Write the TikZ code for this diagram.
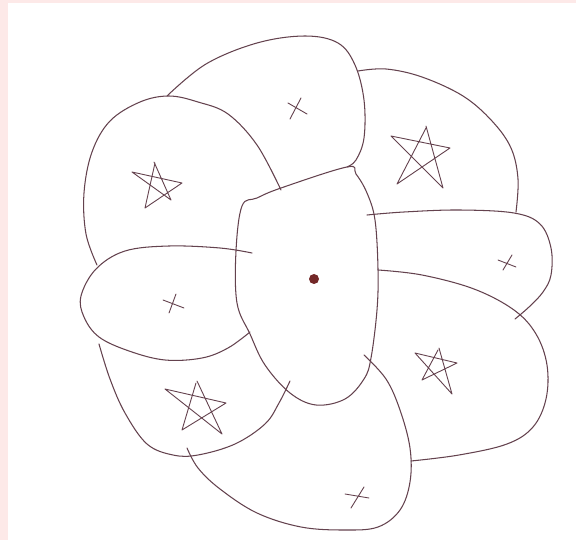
\documentclass[tikz,border=0pt]{standalone}
\usepackage{tikz}
\usetikzlibrary{calc}
\definecolor{ink}{RGB}{100,66,78}
\definecolor{dotred}{RGB}{115,40,40}
\definecolor{paperpink}{RGB}{253,233,232}
\begin{document}
\begin{tikzpicture}[x=1pt,y=-1pt,line cap=round,line join=round]
        \tikzset{pen/.style={draw=ink,line width=1.05pt},
                 penmark/.style={draw=ink,line width=0.9pt}}
        \useasboundingbox (0,0) rectangle (576,540);
        % Draw the paper
        \fill[paperpink] (0,0) rectangle (576,540);
        \fill[white] (8,3) rectangle (576,540);
        % Draw the central piece
        \draw[pen] plot[smooth cycle,tension=0.6] coordinates {(347,167) (281,188) (257,198) (242,206) (236,251) (237,303) (250,334) (265,365) (290,393) (316,405) (345,399) (364,379) (371,358) (377,310) (378,269) (375,220) (367,193) (356,174)};
        \fill[dotred] (314,279) circle (5);
        % top piece
        \draw[pen] plot[smooth,tension=0.6] coordinates {(167,96) (206,64) (257,43) (305,36) (338,43) (355,65) (364,100) (364,138) (356,160) (347,167)};
        % upper left piece
        \draw[pen] plot[smooth,tension=0.6] coordinates {(281,190) (257,145) (228,114) (198,102) (169,96) (140,102) (110,121) (92,152) (84,193) (86,234) (97,265)};
        % upper right piece
        \draw[pen] plot[smooth,tension=0.6] coordinates {(358,71) (386,69) (422,77) (463,96) (492,121) (511,148) (518,179) (516,212)};
        % right piece
        \draw[pen] plot[smooth,tension=0.6] coordinates {(367,215) (404,212) (459,210) (514,213) (540,224) (551,248) (551,275) (543,292) (529,307) (515,319)};
        % lower right piece
        \draw[pen] plot[smooth,tension=0.6] coordinates {(378,270) (422,275) (474,289) (514,310) (536,334) (547,365) (546,399) (533,427) (507,444) (459,455) (411,461)};
        % bottom piece
        \draw[pen] plot[smooth,tension=0.6] coordinates {(364,355) (386,379) (400,410) (410,448) (410,482) (400,510) (378,527) (345,530) (301,527) (257,513) (220,489) (198,468) (187,448)};
        % lower left piece
        \draw[pen] plot[smooth,tension=0.6] coordinates {(290,381) (279,403) (265,424) (235,444) (198,455) (173,455) (147,444) (125,413) (110,379) (99,344)};
        % left piece
        \draw[pen] plot[smooth,tension=0.6] coordinates {(252,253) (220,248) (169,246) (125,251) (96,269) (81,296) (84,317) (99,337) (129,351) (165,360) (202,358) (228,348) (250,332)};
        % crosses
        \draw[penmark] (288,103) -- (307,114) (301,98) -- (290,119);
        \draw[penmark] (498,260) -- (516,267) (512,255) -- (503,270);
        \draw[penmark] (345,494) -- (369,498) (364,487) -- (351,508);
        \draw[penmark] (163,300) -- (184,308) (176,294) -- (169,313);
        % stars
        \draw[penmark] (154,162) -- (171,200) -- (132,172) -- (182,183) -- (145,208) -- (155,163);
        \draw[penmark] (426,126) -- (443,188) -- (391,136) -- (450,148) -- (397,184) -- (426,128);
        \draw[penmark] (439,348) -- (452,394) -- (415,353) -- (457,363) -- (422,380) -- (438,350);
        \draw[penmark] (197,381) -- (222,434) -- (165,389) -- (226,403) -- (182,430) -- (196,383);
      \end{tikzpicture}
\end{document}
